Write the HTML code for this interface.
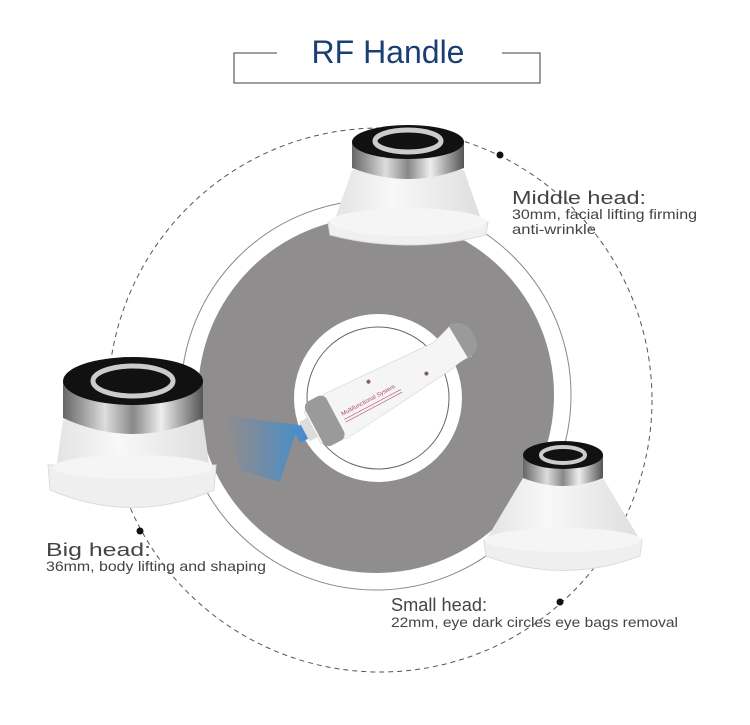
<!DOCTYPE html>
<html><head><meta charset="utf-8"><style>
html,body{margin:0;padding:0;background:#fff;}
svg{display:block;}
text{font-family:"Liberation Sans",sans-serif;}
</style></head><body>
<svg width="750" height="725" viewBox="0 0 750 725">
<defs>
<linearGradient id="band" x1="0" x2="1" y1="0" y2="0">
<stop offset="0" stop-color="#666"/><stop offset="0.3" stop-color="#ddd"/><stop offset="0.5" stop-color="#888"/><stop offset="0.7" stop-color="#eee"/><stop offset="1" stop-color="#555"/>
</linearGradient>
<linearGradient id="body" x1="0" x2="1" y1="0" y2="0">
<stop offset="0" stop-color="#e3e3e3"/><stop offset="0.4" stop-color="#f8f8f8"/><stop offset="1" stop-color="#dedede"/>
</linearGradient>
<linearGradient id="blue" x1="1" x2="0" y1="0" y2="0">
<stop offset="0" stop-color="#3f8fd0" stop-opacity="0.9"/><stop offset="1" stop-color="#5a88b5" stop-opacity="0"/>
</linearGradient>
</defs>

<!-- title -->
<polyline points="277,53 234,53 234,83 540,83 540,53 502,53" fill="none" stroke="#666" stroke-width="1.3"/>
<text x="388" y="63" font-size="32" fill="#1c3f73" text-anchor="middle">RF Handle</text>

<!-- dashed circle -->
<circle cx="380" cy="400" r="272" fill="none" stroke="#555" stroke-width="1" stroke-dasharray="5,4"/>
<circle cx="500" cy="155" r="3.5" fill="#111"/>
<circle cx="140" cy="531" r="3.5" fill="#111"/>
<circle cx="560" cy="602" r="3.5" fill="#111"/>

<!-- gray disk -->
<circle cx="376" cy="395" r="195" fill="none" stroke="#888" stroke-width="1"/>
<circle cx="376" cy="395" r="178" fill="#8f8d8e"/>
<circle cx="378" cy="398" r="84" fill="#fff"/>
<circle cx="378" cy="398" r="71" fill="none" stroke="#666" stroke-width="1"/>

<!-- handle -->
<polygon points="298,425 225,415 240,470 280,482" fill="url(#blue)"/>
<g transform="translate(300,434) rotate(-28)">
<rect x="-4" y="-8" width="10" height="16" fill="#4a8ccc"/>
<rect x="5" y="-11" width="10" height="22" fill="#ddd"/>
<path d="M14,-18 L40,-24 L120,-20 L160,-18 Q175,-22 185,-26 L188,12 Q178,10 165,14 L40,26 L14,18 Z" fill="#f5f5f5" stroke="#ccc" stroke-width="0.5"/>
<rect x="16" y="-25" width="24" height="50" rx="7" fill="#9a9a9a"/>
<path d="M182,-26 Q200,-26 200,-6 Q200,12 184,12 Z" fill="#9a9a9a"/>
<text x="46" y="4" font-size="6" fill="#b04a6a">Multifunctional System</text>
<line x1="46" y1="8" x2="110" y2="8" stroke="#c05a7a" stroke-width="0.7"/>
<line x1="46" y1="11" x2="110" y2="11" stroke="#c05a7a" stroke-width="0.7"/>
<circle cx="85" cy="-14" r="2" fill="#8a5a5a"/>
<circle cx="140" cy="6" r="2" fill="#8a5a5a"/>
</g>

<!-- middle head -->
<g>
<path d="M352,170 L464,170 L482,222 L334,222 Z" fill="url(#body)"/>
<path d="M328,222 L488,222 L486,235 Q408,255 330,235 Z" fill="#f0f0f0" stroke="#ddd" stroke-width="1"/>
<ellipse cx="408" cy="222" rx="78" ry="14" fill="#f5f5f5"/>
<path d="M352,142 L352,168 Q408,190 464,168 L464,142 Z" fill="url(#band)"/>
<ellipse cx="408" cy="142" rx="56" ry="17" fill="#111"/>
<ellipse cx="408" cy="141" rx="33" ry="11" fill="none" stroke="#ccc" stroke-width="5"/>
</g>

<!-- big head -->
<g>
<path d="M63,420 L203,420 L210,470 L56,470 Z" fill="url(#body)"/>
<path d="M48,465 L216,465 L214,490 Q133,525 50,490 Z" fill="#efefef" stroke="#ddd" stroke-width="1"/>
<ellipse cx="133" cy="467" rx="80" ry="12" fill="#f5f5f5"/>
<path d="M63,381 L63,418 Q133,450 203,418 L203,381 Z" fill="url(#band)"/>
<ellipse cx="133" cy="381" rx="70" ry="24" fill="#111"/>
<ellipse cx="133" cy="381" rx="40" ry="15" fill="none" stroke="#ccc" stroke-width="5"/>
</g>

<!-- small head -->
<g>
<path d="M523,478 L603,478 L640,540 L486,540 Z" fill="url(#body)"/>
<path d="M484,540 L642,540 L640,556 Q563,585 486,556 Z" fill="#efefef" stroke="#ddd" stroke-width="1"/>
<ellipse cx="563" cy="540" rx="78" ry="12" fill="#f5f5f5"/>
<path d="M523,455 L523,478 Q563,494 603,478 L603,455 Z" fill="url(#band)"/>
<ellipse cx="563" cy="455" rx="40" ry="14" fill="#111"/>
<ellipse cx="563" cy="455" rx="22" ry="8" fill="none" stroke="#ccc" stroke-width="4"/>
</g>

<!-- labels -->
<g fill="#444">
<text x="512" y="204" font-size="18" textLength="134" lengthAdjust="spacingAndGlyphs">Middle head:</text>
<text x="512" y="219" font-size="14" textLength="185" lengthAdjust="spacingAndGlyphs">30mm, facial lifting firming</text>
<text x="512" y="234" font-size="14" textLength="84" lengthAdjust="spacingAndGlyphs">anti-wrinkle</text>
<text x="46" y="556" font-size="18" textLength="105" lengthAdjust="spacingAndGlyphs">Big head:</text>
<text x="46" y="571" font-size="14" textLength="220" lengthAdjust="spacingAndGlyphs">36mm, body lifting and shaping</text>
<text x="391" y="611" font-size="18" textLength="96" lengthAdjust="spacingAndGlyphs">Small head:</text>
<text x="391" y="627" font-size="14" textLength="287" lengthAdjust="spacingAndGlyphs">22mm, eye dark circles eye bags removal</text>
</g>
</svg>
</body></html>
